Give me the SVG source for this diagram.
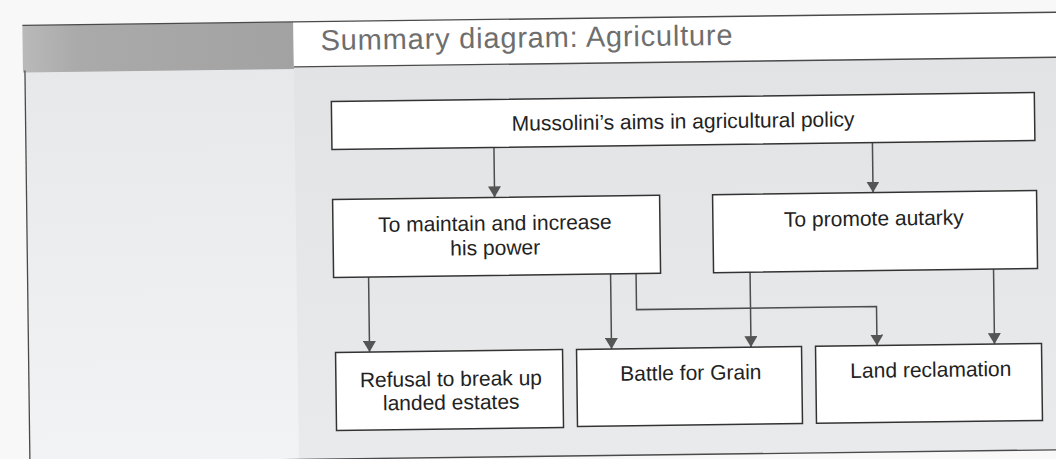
<svg xmlns="http://www.w3.org/2000/svg" width="1056" height="459" viewBox="0 0 1056 459">
<defs>
  <linearGradient id="hdr" x1="0" x2="1" y1="0" y2="0">
    <stop offset="0" stop-color="#b9b9b9"/>
    <stop offset="0.2" stop-color="#aaaaaa"/>
    <stop offset="1" stop-color="#a2a2a2"/>
  </linearGradient>
  <linearGradient id="page" x1="0" x2="0" y1="0" y2="1">
    <stop offset="0" stop-color="#e1e3e5"/>
    <stop offset="1" stop-color="#e8eaec"/>
  </linearGradient>
  <linearGradient id="col" x1="0" x2="0" y1="0" y2="1">
    <stop offset="0" stop-color="#e6e8ea"/>
    <stop offset="1" stop-color="#f1f3f5"/>
  </linearGradient>
  <marker id="ah" markerUnits="userSpaceOnUse" markerWidth="11" markerHeight="13" viewBox="0 0 11 13" refX="11" refY="6.5" orient="auto">
    <path d="M0,0 L11,6.5 L0,13 z" fill="#555"/>
  </marker>
</defs>
<style>
  .box{fill:#fff;stroke:#333;stroke-width:1.5}
  .t{font-family:"Liberation Sans",Arial,Helvetica,sans-serif;font-size:21px;fill:#222;text-anchor:middle}
  .c{fill:none;stroke:#4d4d4d;stroke-width:1.5;marker-end:url(#ah)}
  .frame{stroke:#4a4a4a;stroke-width:1.3;fill:none}
  .title{font-family:"Liberation Sans",Arial,Helvetica,sans-serif;font-size:29px;fill:#6e6e6e}
</style>
<rect width="1056" height="459" fill="#f8f8f8"/>
<g transform="rotate(-0.73 528 230)">
  <g id="page-frame">
    <rect x="27" y="64" width="1045" height="392.5" fill="url(#page)"/>
    <rect x="27" y="64" width="269" height="392.5" fill="url(#col)"/>
    <rect x="25" y="19" width="271" height="47" fill="url(#hdr)"/>
    <rect x="296" y="19" width="776" height="45" fill="#ffffff"/>
    <path class="frame" d="M25,19 H1075"/>
    <path class="frame" d="M296,64 H1075"/>
    <path class="frame" d="M27,64 V470"/>
    <path class="frame" d="M27,456.5 H1075"/>
    <text class="title" x="323" y="47.5" textLength="412" lengthAdjust="spacing">Summary diagram: Agriculture</text>
  </g>
  <g id="connectors">
    <path class="c" d="M495,147 V197"/>
    <path class="c" d="M873.5,147 V197"/>
    <path class="c" d="M368,275 V350"/>
    <path class="c" d="M610,275 V350"/>
    <path class="c" d="M635.5,275 V311 H875.5 V350"/>
    <path class="c" d="M749.5,275 V350"/>
    <path class="c" d="M993,275 V350"/>
  </g>
  <g id="node-aims">
    <rect class="box" x="333" y="99" width="703" height="48"/>
    <text class="t" x="684.5" y="130.5">Mussolini’s aims in agricultural policy</text>
  </g>
  <g id="node-power">
    <rect class="box" x="333" y="197" width="327" height="78"/>
    <text class="t" x="495" y="230">To maintain and increase</text>
    <text class="t" x="495" y="254.5">his power</text>
  </g>
  <g id="node-autarky">
    <rect class="box" x="713" y="197" width="324" height="78"/>
    <text class="t" x="874" y="230">To promote autarky</text>
  </g>
  <g id="node-refusal">
    <rect class="box" x="334" y="350" width="227" height="78"/>
    <text class="t" x="449" y="385">Refusal to break up</text>
    <text class="t" x="449" y="408.5">landed estates</text>
  </g>
  <g id="node-grain">
    <rect class="box" x="575" y="350" width="225" height="77"/>
    <text class="t" x="689" y="382">Battle for Grain</text>
  </g>
  <g id="node-land">
    <rect class="box" x="814" y="350" width="226" height="77"/>
    <text class="t" x="929" y="382">Land reclamation</text>
  </g>
</g>
</svg>
